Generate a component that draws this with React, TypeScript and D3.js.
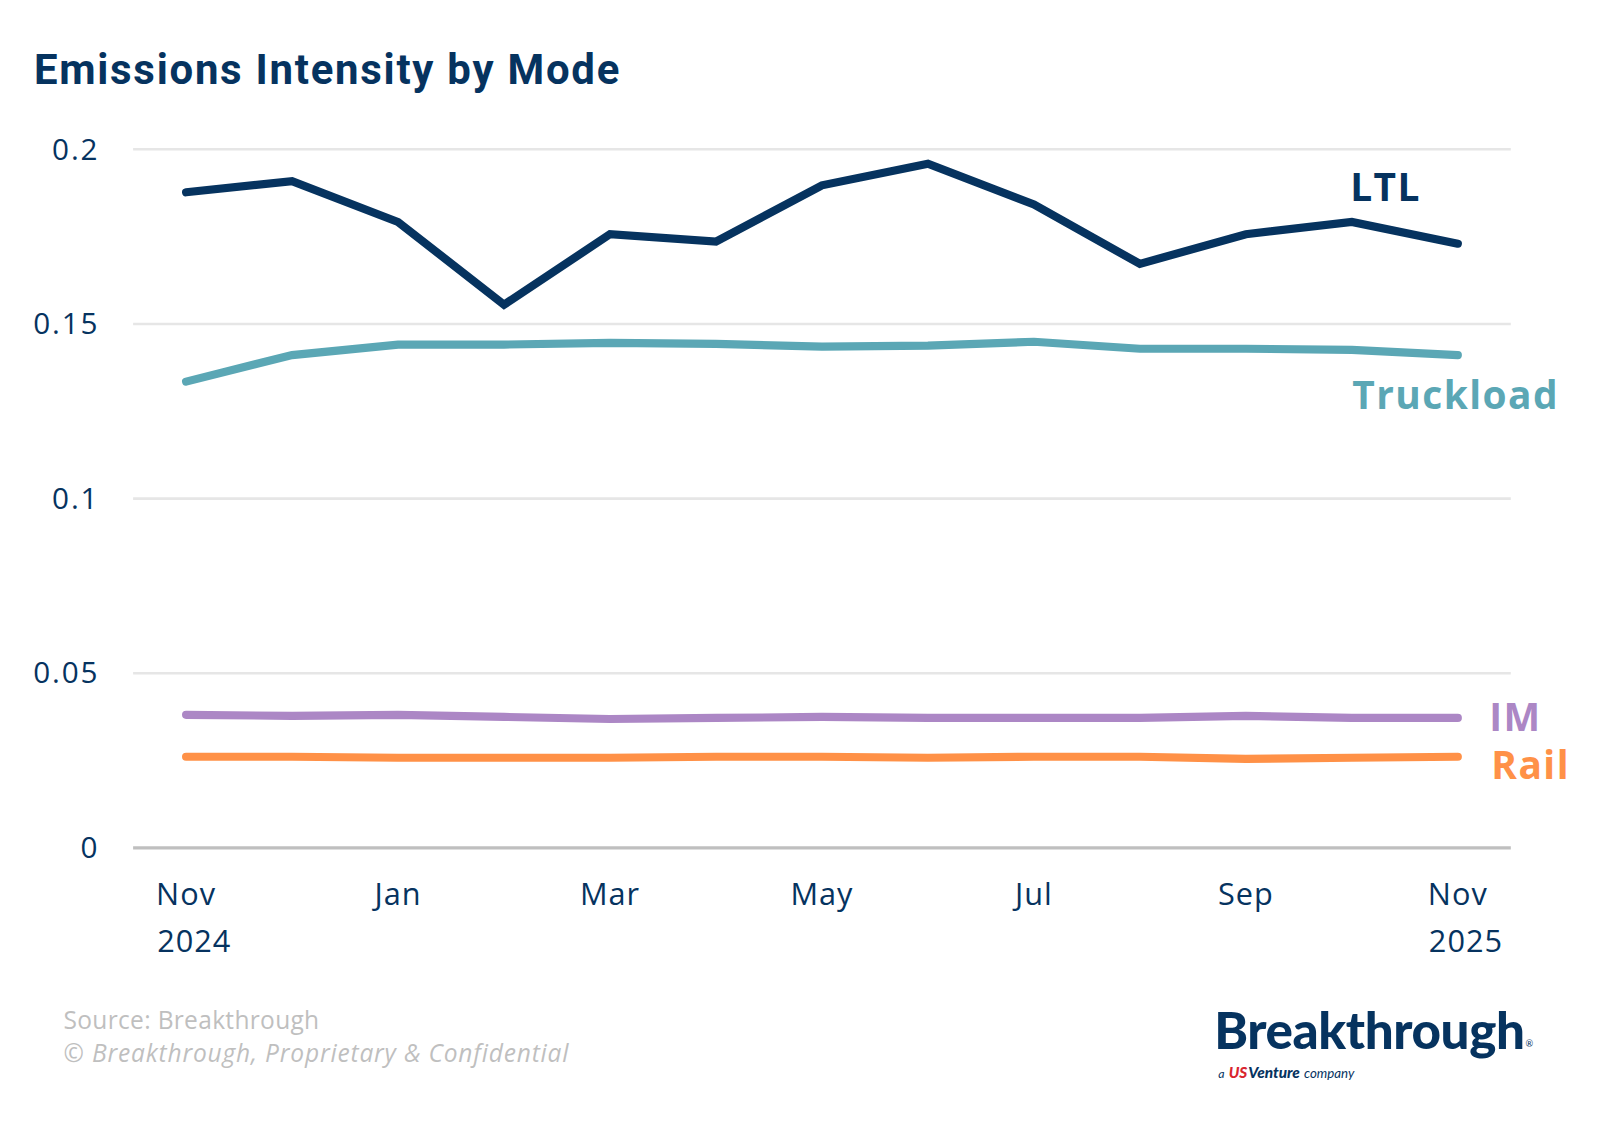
import React, { useEffect, useRef } from "react";
import * as d3 from "d3";

const months = ["Nov 2024", "Dec", "Jan", "Feb", "Mar", "Apr", "May", "Jun", "Jul", "Aug", "Sep", "Oct", "Nov 2025"];
const tickLabels: Record<string, string[]> = {
  "Nov 2024": ["Nov", "2024"],
  Jan: ["Jan"],
  Mar: ["Mar"],
  May: ["May"],
  Jul: ["Jul"],
  Sep: ["Sep"],
  "Nov 2025": ["Nov", "2025"],
};
const yTicks = [0, 0.05, 0.1, 0.15, 0.2];

const ltl = [0.1877, 0.1909, 0.1792, 0.1555, 0.1757, 0.1736, 0.1897, 0.1959, 0.1842, 0.1672, 0.1757, 0.1792, 0.173];
const truckload = [0.1335, 0.1411, 0.1441, 0.1441, 0.1446, 0.1443, 0.1435, 0.1438, 0.1449, 0.1429, 0.1429, 0.1426, 0.1411];
const im = [0.0381, 0.0378, 0.0381, 0.0375, 0.0369, 0.0372, 0.0375, 0.0372, 0.0372, 0.0372, 0.0378, 0.0372, 0.0372];
const rail = [0.0261, 0.0261, 0.0258, 0.0258, 0.0258, 0.0261, 0.0261, 0.0258, 0.0261, 0.0261, 0.0255, 0.0258, 0.0261];

const series = [
  { name: "LTL", values: ltl, color: "#06335f", lx: 1320, ly: 197 },
  { name: "Truckload", values: truckload, color: "#5ba7b5", lx: 1322, ly: 400 },
  { name: "IM", values: im, color: "#ac87c5", lx: 1456, ly: 715 },
  { name: "Rail", values: rail, color: "#ff9147", lx: 1458, ly: 762 },
];

const NAVY = "#06335f";

export default function App() {
  const ref = useRef<SVGSVGElement>(null);

  useEffect(() => {
    document.body.style.margin = "0";
    const svg = d3.select(ref.current);
    svg.selectAll("*").remove();

    const left = 130, right = 1477, top = 146, bottom = 829;

    const x = d3.scaleBand().domain(months).range([left, right]).padding(0);
    const y = d3.scaleLinear().domain([0, 0.2]).range([bottom, top]);
    const cx = (m: string) => (x(m) as number) + x.bandwidth() / 2;

    // title
    svg.append("text")
      .attr("x", 33).attr("y", 82)
      .attr("font-family", "Roboto, sans-serif")
      .attr("font-weight", 700)
      .attr("font-size", 41)
      .attr("letter-spacing", 1.7)
      .attr("fill", NAVY)
      .text("Emissions Intensity by Mode");

    // gridlines + y labels
    const yAxis = svg.append("g");
    yTicks.forEach((t) => {
      yAxis.append("line")
        .attr("x1", left).attr("x2", right)
        .attr("y1", y(t)).attr("y2", y(t))
        .attr("stroke", t === 0 ? "#bfbfbf" : "#e6e6e6")
        .attr("stroke-width", t === 0 ? 3 : 2.5);
      yAxis.append("text")
        .attr("x", 97).attr("y", y(t) + 10)
        .attr("text-anchor", "end")
        .attr("font-family", "'Open Sans', sans-serif")
        .attr("font-size", 29)
        .attr("letter-spacing", 1.8)
        .attr("fill", NAVY)
        .text(String(t));
    });

    // x labels
    const xAxis = svg.append("g");
    months.forEach((m) => {
      const lines = tickLabels[m];
      if (!lines) return;
      lines.forEach((l, i) => {
        xAxis.append("text")
          .attr("x", cx(m) + (i === 1 ? 8 : 0))
          .attr("y", 885 + i * 46)
          .attr("text-anchor", "middle")
          .attr("font-family", "'Open Sans', sans-serif")
          .attr("font-size", 30)
          .attr("letter-spacing", 1)
          .attr("fill", NAVY)
          .text(l);
      });
    });

    // lines
    const line = d3.line<number>()
      .x((_, i) => cx(months[i]))
      .y((d) => y(d));

    series.slice().reverse().forEach((s) => {
      svg.append("path")
        .datum(s.values)
        .attr("fill", "none")
        .attr("stroke", s.color)
        .attr("stroke-width", 8)
        .attr("stroke-linecap", "round")
        .attr("stroke-linejoin", "miter")
        .attr("d", line);
      svg.append("text")
        .attr("x", s.lx).attr("y", s.ly)
        .attr("font-family", "'Open Sans', sans-serif")
        .attr("font-weight", 700)
        .attr("font-size", 38)
        .attr("letter-spacing", 1.4)
        .attr("fill", s.color)
        .text(s.name);
    });

    // footer
    svg.append("text")
      .attr("x", 62).attr("y", 1006)
      .attr("font-family", "'Open Sans', sans-serif")
      .attr("font-size", 24)
      .attr("letter-spacing", 0.3)
      .attr("fill", "#bfbfbf")
      .text("Source: Breakthrough");
    svg.append("text")
      .attr("x", 62).attr("y", 1038)
      .attr("font-family", "'Open Sans', sans-serif")
      .attr("font-style", "italic")
      .attr("font-size", 24)
      .attr("letter-spacing", 0.8)
      .attr("fill", "#bfbfbf")
      .text("© Breakthrough, Proprietary & Confidential");

    // logo
    const logo = svg.append("g");
    const word = logo.append("text")
      .attr("x", 1187).attr("y", 1026)
      .attr("font-family", "Lato, sans-serif")
      .attr("font-weight", 900)
      .attr("font-size", 50)
      .attr("letter-spacing", -0.4)
      .attr("fill", NAVY)
      .text("Breakthrough");
    const wlen = (word.node() as SVGTextElement).getComputedTextLength();
    logo.append("text")
      .attr("x", 1187 + wlen + 1).attr("y", 1024)
      .attr("font-family", "Lato, sans-serif")
      .attr("font-size", 9)
      .attr("fill", NAVY)
      .text("®");

    // "a USVenture company" as separate pieces laid out side by side
    const parts = [
      { t: "a", size: 12, weight: 400, color: NAVY, gap: 4 },
      { t: "US", size: 15, weight: 900, color: "#d9262e", gap: 1 },
      { t: "Venture", size: 15, weight: 900, color: NAVY, gap: 4 },
      { t: "company", size: 13, weight: 400, color: NAVY, gap: 0 },
    ];
    let px = 1191;
    parts.forEach((p) => {
      const el = logo.append("text")
        .attr("x", px).attr("y", 1054)
        .attr("font-family", "Lato, sans-serif")
        .attr("font-style", "italic")
        .attr("font-weight", p.weight)
        .attr("font-size", p.size)
        .attr("fill", p.color)
        .text(p.t);
      px += (el.node() as SVGTextElement).getComputedTextLength() + p.gap;
    });
  }, []);

  return (
    <svg
      ref={ref}
      width={1603}
      height={1122}
      viewBox="0 0 1567 1097"
      style={{ display: "block", background: "#fff" }}
    />
  );
}
